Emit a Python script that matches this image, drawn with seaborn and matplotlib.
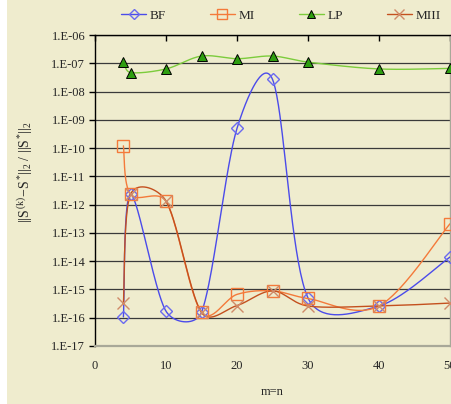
import numpy as np
import matplotlib
matplotlib.use("Agg")
import matplotlib.pyplot as plt
from matplotlib.lines import Line2D
from matplotlib.patches import Rectangle
from matplotlib.ticker import FixedLocator, FixedFormatter, NullLocator
import seaborn as sns

# ---- data -------------------------------------------------------------
m_values = [4, 5, 10, 15, 20, 25, 30, 40, 50]
bf = [1.07e-16, 2.3e-12, 1.7e-16, 1.55e-16, 5.0e-10, 2.7e-8, 5.0e-16, 2.6e-16, 1.4e-14]
mi = [1.2e-10, 2.3e-12, 1.3e-12, 1.55e-16, 6.7e-16, 8.9e-16, 4.8e-16, 2.6e-16, 2.1e-13]
lp = [1.1e-7, 4.7e-8, 6.3e-8, 1.8e-7, 1.45e-7, 1.8e-7, 1.1e-7, 6.3e-8, 6.6e-8]
miii = [3.2e-16, 2.3e-12, 1.35e-12, 1.55e-16, 2.7e-16, 8.9e-16, 2.6e-16, 2.6e-16, 3.3e-16]

series_names = ["BF", "MI", "LP", "MIII"]
y_ticks = [1e-17, 1e-16, 1e-15, 1e-14, 1e-13, 1e-12, 1e-11, 1e-10, 1e-9, 1e-8, 1e-7, 1e-6]
y_tick_labels = ["1.E-17", "1.E-16", "1.E-15", "1.E-14", "1.E-13", "1.E-12",
                 "1.E-11", "1.E-10", "1.E-09", "1.E-08", "1.E-07", "1.E-06"]
x_ticks = [0, 10, 20, 30, 40, 50]

BG = "#EFECCE"
W, H = 452, 404


def smooth_curve(xs, ys, sx=7.1, sy=28.25, n=40, cap=0.42):
    """Bezier smoothing of a polyline in screen-like units (linear x, log y),
    with control handles limited to a fraction of each segment's length."""
    P = np.column_stack([np.asarray(xs, float) * sx, np.log10(ys) * sy])
    k = len(P)
    pts = [P[0]]
    ts = np.linspace(0, 1, n)[1:]
    for i in range(k - 1):
        p0, p1 = P[max(i - 1, 0)], P[i]
        p2, p3 = P[i + 1], P[min(i + 2, k - 1)]
        limit = np.linalg.norm(p2 - p1) * cap
        t1 = (p2 - p0) / 6
        t2 = (p3 - p1) / 6
        for t in (t1, t2):
            L = np.linalg.norm(t)
            if L > limit and L > 0:
                t *= limit / L
        c1, c2 = p1 + t1, p2 - t2
        for t in ts:
            pts.append((1 - t) ** 3 * p1 + 3 * (1 - t) ** 2 * t * c1
                       + 3 * (1 - t) * t ** 2 * c2 + t ** 3 * p2)
    pts = np.array(pts)
    return pts[:, 0] / sx, 10 ** (pts[:, 1] / sy)


sns.set_style("white")
plt.rcParams["font.family"] = ["Liberation Serif", "DejaVu Serif"]
plt.rcParams["mathtext.fontset"] = "custom"
plt.rcParams["mathtext.rm"] = "Liberation Serif"
plt.rcParams["mathtext.it"] = "Liberation Serif"

fig = plt.figure(figsize=(W / 100, H / 100), dpi=100, facecolor=BG)
fig.patches.append(Rectangle((0, 0), 7 / W, 1, transform=fig.transFigure,
                             facecolor="white", edgecolor="none", zorder=-5))
ax = fig.add_axes([95 / W, (H - 346) / H, 355 / W, 311 / H])
ax.set_facecolor(BG)

styles = {
    "BF":   dict(data=bf,   line="#4B4BEA", marker="D", ms=6.5, mfc="none", mec="#6A6AF0", mew=1.0),
    "MI":   dict(data=mi,   line="#F47A3A", marker="s", ms=9,   mfc="none", mec="#F47A3A", mew=1.0),
    "LP":   dict(data=lp,   line="#7CCC3C", marker="^", ms=7,   mfc="#2E9E10", mec="#000000", mew=0.7),
    "MIII": dict(data=miii, line="#C4501E", marker="x", ms=8,   mfc="none", mec="#D08A68", mew=1.0),
}

for name in series_names:
    st = styles[name]
    cx, cy = smooth_curve(m_values, st["data"])
    sns.lineplot(x=cx, y=cy, sort=False, estimator=None, ax=ax,
                 color=st["line"], lw=1.0, legend=False, zorder=3)
    ax.plot(m_values, st["data"], linestyle="none", marker=st["marker"],
            ms=st["ms"], mfc=st["mfc"], mec=st["mec"], mew=st["mew"], zorder=4)

ax.set_yscale("log")
ax.set_ylim(1e-17, 1e-6)
ax.set_xlim(0, 50)

# horizontal gridlines at every decade
for yv in y_ticks[1:]:
    ax.axhline(yv, color="#3A3A3A", lw=0.9, zorder=1)

ax.yaxis.set_major_locator(FixedLocator(y_ticks))
ax.yaxis.set_major_formatter(FixedFormatter(y_tick_labels))
ax.yaxis.set_minor_locator(NullLocator())
ax.set_xticks(x_ticks)
ax.set_xticklabels([str(v) for v in x_ticks])

ax.tick_params(axis="y", which="major", direction="out", length=4, width=1,
               color="black", pad=3, labelsize=9, left=True)
ax.tick_params(axis="x", which="major", direction="in", length=4, width=1,
               color="black", top=True, bottom=False, labeltop=False,
               labelbottom=True, pad=10, labelsize=9)

ax.spines["left"].set_color("black")
ax.spines["left"].set_linewidth(1.0)
ax.spines["top"].set_color("black")
ax.spines["top"].set_linewidth(1.0)
ax.spines["bottom"].set_color("#A8A898")
ax.spines["bottom"].set_linewidth(1.6)
ax.spines["right"].set_color("#A8A898")
ax.spines["right"].set_linewidth(1.0)

ax.set_xlabel("m=n", fontsize=9, labelpad=10)
ax.set_ylabel("")
fig.text(25.5 / W, 1 - 172 / H,
         r"$||S^{(k)}\!-\!S^{*}||_{2}\ /\ ||S^{*}||_{2}$",
         rotation=90, ha="center", va="center", fontsize=10)

handles = []
for name in series_names:
    st = styles[name]
    handles.append(Line2D([], [], color=st["line"], lw=1.0, marker=st["marker"],
                          ms=st["ms"] * 0.85, mfc=st["mfc"], mec=st["mec"], mew=st["mew"]))
fig.legend(handles, series_names, loc="center left",
           bbox_to_anchor=(121 / W, 1 - 16 / H), ncol=4, frameon=False,
           fontsize=9.5, handlelength=1.9, handletextpad=0.3,
           columnspacing=3.3, borderpad=0, borderaxespad=0)

fig.savefig("out.png", dpi=100, facecolor=BG)
